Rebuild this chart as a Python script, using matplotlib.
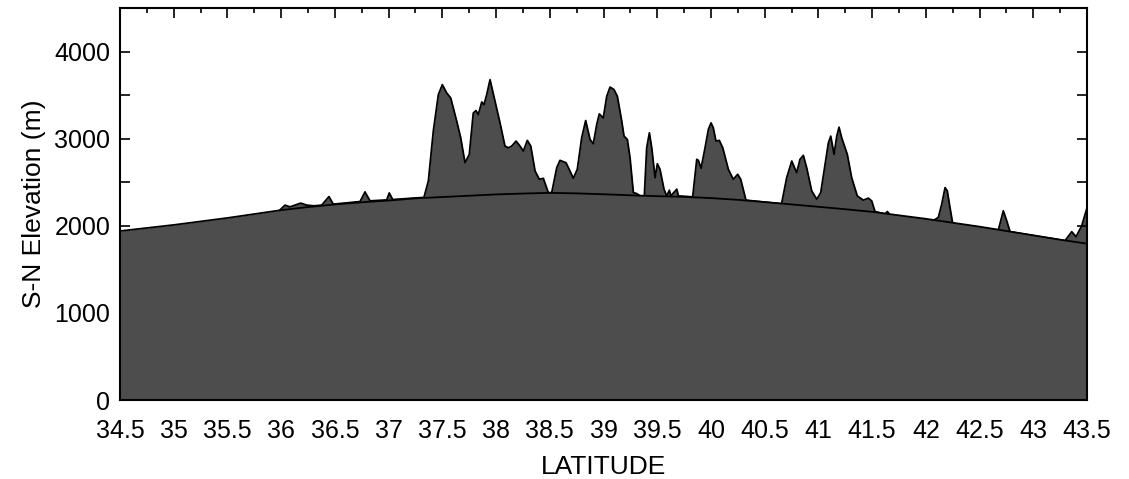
import numpy as np
import matplotlib.pyplot as plt
from matplotlib.ticker import MultipleLocator

plt.rcParams['font.family'] = ['Liberation Sans', 'DejaVu Sans']

# smooth base arc (m), every 0.25 deg of latitude
base_lat = [34.5, 34.75, 35.0, 35.25, 35.5, 35.75, 36.0, 36.25, 36.5, 36.75,
            37.0, 37.25, 37.5, 37.75, 38.0, 38.25, 38.5, 38.75, 39.0, 39.25,
            39.5, 39.75, 40.0, 40.25, 40.5, 40.75, 41.0, 41.25, 41.5, 41.75,
            42.0, 42.25, 42.5, 42.75, 43.0, 43.25, 43.5]
base_elev = [1940, 1975, 2010, 2050, 2090, 2135, 2180, 2215, 2245, 2270,
             2290, 2315, 2330, 2345, 2360, 2370, 2378, 2372, 2362, 2350,
             2340, 2332, 2318, 2298, 2272, 2245, 2218, 2190, 2160, 2120,
             2080, 2035, 1990, 1940, 1890, 1840, 1795]

# mountain ridge profile above the arc
ridge_lat = [35.99, 36.036, 36.082, 36.182, 36.238, 36.306, 36.377, 36.445, 36.485,
             36.734, 36.78, 36.827,
             36.982, 37.006, 37.038,
             37.329, 37.37, 37.416, 37.463, 37.5, 37.541, 37.578, 37.634, 37.671,
             37.711, 37.751, 37.788, 37.813, 37.835, 37.867, 37.888, 37.913, 37.944,
             37.99, 38.037, 38.083, 38.114, 38.146, 38.186, 38.223, 38.254, 38.291,
             38.323, 38.363, 38.403, 38.44, 38.486,
             38.518, 38.565, 38.595, 38.651, 38.688, 38.719, 38.756, 38.797, 38.834,
             38.875, 38.905, 38.937, 38.961, 38.998, 39.03, 39.061, 39.098, 39.129,
             39.17, 39.191, 39.222, 39.247, 39.278, 39.31, 39.34,
             39.38, 39.402, 39.427, 39.449, 39.48, 39.501, 39.526, 39.563, 39.588,
             39.613, 39.626, 39.682, 39.697,
             39.83, 39.868, 39.883, 39.908, 39.945, 39.976, 40.001, 40.022, 40.047,
             40.078, 40.11, 40.162, 40.208, 40.249, 40.277, 40.326,
             40.657, 40.705, 40.752, 40.798, 40.829, 40.86, 40.891, 40.938, 40.985,
             41.022, 41.062, 41.093, 41.115, 41.146, 41.171, 41.192, 41.217, 41.248,
             41.269, 41.31, 41.362, 41.418, 41.465, 41.496, 41.527,
             41.62, 41.642, 41.667,
             42.064, 42.116, 42.148, 42.179, 42.2, 42.225, 42.25,
             42.675, 42.721, 42.753, 42.784,
             43.296, 43.358, 43.398, 43.451, 43.5]
ridge_elev = [2183, 2237, 2217, 2260, 2237, 2229, 2237, 2335, 2248,
              2278, 2389, 2286,
              2297, 2377, 2301,
              2326, 2515, 3086, 3506, 3620, 3524, 3467, 3200, 3010,
              2724, 2820, 3295, 3323, 3277, 3421, 3391, 3506, 3677,
              3429, 3181, 2915, 2895, 2915, 2972, 2915, 2858, 2980,
              2915, 2629, 2534, 2545, 2381,
              2381, 2667, 2751, 2724, 2629, 2545, 2648, 3010, 3208,
              2991, 2941, 3163, 3284, 3238, 3486, 3592, 3563, 3486,
              3200, 3029, 2991, 2781, 2381, 2369, 2343,
              2343, 2895, 3067, 2895, 2552, 2712, 2648, 2420, 2343,
              2408, 2343, 2420, 2343,
              2332, 2763, 2751, 2660, 2895, 3106, 3181, 3124, 2972,
              2980, 2895, 2648, 2534, 2591, 2534, 2294,
              2252, 2552, 2743, 2610, 2763, 2808, 2667, 2400, 2305,
              2381, 2705, 2952, 3029, 2820, 3029, 3132, 3010, 2895,
              2820, 2552, 2343, 2294, 2317, 2286, 2164,
              2134, 2164, 2123,
              2057, 2095, 2248, 2438, 2400, 2209, 2027,
              1951, 2172, 2057, 1932,
              1829, 1932, 1874, 2000, 2206]

fig = plt.figure(figsize=(11.29, 4.79), dpi=100)
ax = fig.add_axes([0.1063, 0.1649, 0.8565, 0.8184])

gray = '#4d4d4d'
ax.fill_between(ridge_lat, 0, ridge_elev, color=gray, lw=0, zorder=1)
ax.plot(ridge_lat, ridge_elev, color='k', lw=1.3, zorder=2)
# the arc covers the chords between separate ridges
ax.fill_between(base_lat, 0, base_elev, color=gray, lw=0, zorder=3)
ax.plot(base_lat, base_elev, color='k', lw=1.3, zorder=4)

ax.set_xlim(34.5, 43.5)
ax.set_ylim(0, 4500)
ax.xaxis.set_minor_locator(MultipleLocator(0.25))
ax.yaxis.set_major_locator(MultipleLocator(1000))
ax.yaxis.set_minor_locator(MultipleLocator(500))
ax.set_xticks(np.arange(34.5, 43.51, 0.5))
ax.set_xticklabels(['%g' % v for v in np.arange(34.5, 43.51, 0.5)])

ax.tick_params(which='both', direction='in', top=True, right=True,
               labelsize=18, width=1.2)
ax.tick_params(which='major', length=7.5)
ax.tick_params(axis='x', which='major', pad=13.5)
ax.tick_params(axis='y', which='major', pad=7)
ax.tick_params(axis='x', which='minor', length=3.8, bottom=False, top=True)
ax.tick_params(axis='y', which='minor', length=7.5)
for s in ax.spines.values():
    s.set_linewidth(1.5)
    s.set_zorder(5)

ax.set_xlabel('LATITUDE', fontsize=19, labelpad=9)
ax.set_ylabel('S-N Elevation (m)', fontsize=19, labelpad=6)

plt.savefig('out.png', dpi=100)
